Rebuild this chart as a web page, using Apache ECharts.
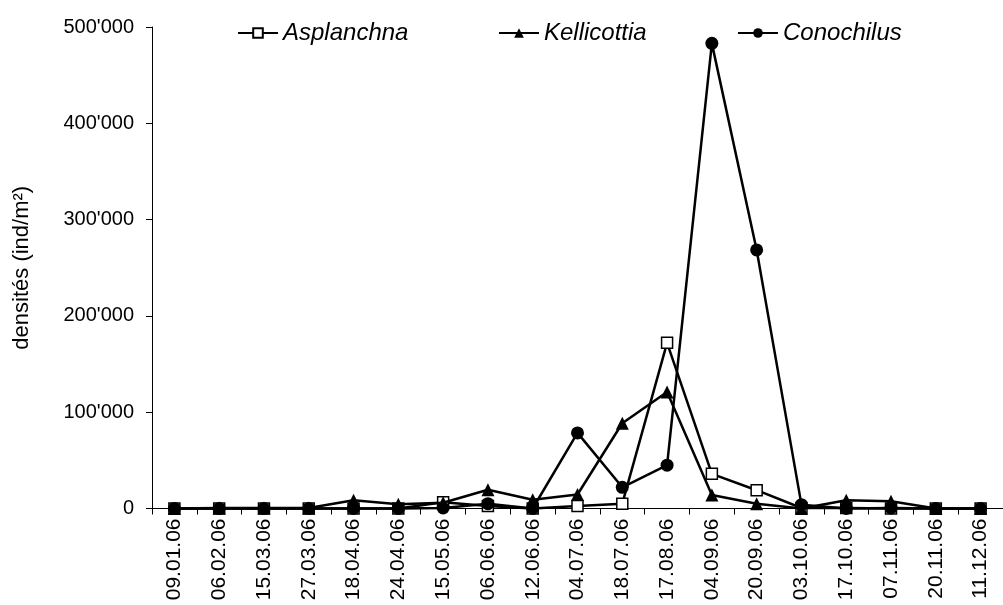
<!DOCTYPE html>
<html>
<head>
<meta charset="utf-8">
<script src="https://cdn.jsdelivr.net/npm/echarts@6/dist/echarts.min.js"></script>
<style>html,body{margin:0;padding:0;background:#fff;}#c{width:1003px;height:605px;}</style>
</head>
<body>
<div id="c"></div>
<script>
const categories = ['09.01.06','06.02.06','15.03.06','27.03.06','18.04.06','24.04.06','15.05.06','06.06.06','12.06.06','04.07.06','18.07.06','17.08.06','04.09.06','20.09.06','03.10.06','17.10.06','07.11.06','20.11.06','11.12.06'];
const asplanchna = [0,0,0,0,0,0,6500,2500,0,2500,5000,172000,36000,19000,500,500,0,0,0];
const kellicottia = [0,500,500,500,8500,4500,6000,19500,9000,14500,88500,121000,14000,5000,0,8500,7500,0,0];
const conochilus = [0,0,0,0,0,0,500,5000,0,78500,22000,45000,483000,268500,4000,0,500,0,0];
const yTicks = [0,100000,200000,300000,400000,500000];

const FONT = 'Liberation Sans, Arial, sans-serif';
function fmt(v){ if(v===0) return '0'; const s=String(v); return s.slice(0,s.length-3)+"'"+s.slice(-3); }

const chart = echarts.init(document.getElementById('c'), null, {renderer:'canvas'});
const legendText = {fontStyle:'italic', fontSize:24, color:'#000', fontFamily:FONT};
const legendBase = {top:21, padding:0, itemWidth:40, itemHeight:12, textStyle:legendText, selectedMode:false};
chart.setOption({
  animation:false,
  backgroundColor:'#fff',
  legend:[
    Object.assign({data:['Asplanchna'], left:237}, legendBase),
    Object.assign({data:['Kellicottia'], left:498}, legendBase),
    Object.assign({data:['Conochilus'], left:737}, legendBase)
  ],
  grid:{left:152, right:-10, top:27, bottom:96.5, containLabel:false},
  xAxis:{
    type:'category', data:categories, boundaryGap:true,
    axisLine:{lineStyle:{color:'#000', width:1}},
    axisTick:{show:true, length:6, alignWithLabel:false, lineStyle:{color:'#000'}},
    axisLabel:{rotate:90, margin:10, fontSize:21, color:'#000', fontFamily:FONT, interval:0},
    splitLine:{show:false}
  },
  yAxis:{
    type:'value', min:0, max:500000, interval:100000,
    name:'densités (ind/m²)', nameLocation:'middle', nameGap:119, nameRotate:90,
    nameTextStyle:{fontSize:22, color:'#000', fontFamily:FONT},
    axisLine:{show:true, lineStyle:{color:'#000', width:1}},
    axisTick:{show:true, length:6, lineStyle:{color:'#000'}},
    axisLabel:{margin:18, fontSize:20, color:'#000', fontFamily:FONT, formatter:(v)=>fmt(v)},
    splitLine:{show:false}
  },
  series:[
    {name:'Asplanchna', type:'line', data:asplanchna, clip:false, z:2,
     symbol:'rect', symbolSize:11, showAllSymbol:true,
     lineStyle:{color:'#000', width:2.5},
     itemStyle:{color:'#fff', borderColor:'#000', borderWidth:1.5}},
    {name:'Kellicottia', type:'line', data:kellicottia, clip:false, z:3,
     symbol:'triangle', symbolSize:13, showAllSymbol:true,
     lineStyle:{color:'#000', width:2.5},
     itemStyle:{color:'#000', borderColor:'#000', borderWidth:0}},
    {name:'Conochilus', type:'line', data:conochilus, clip:false, z:4,
     symbol:'circle', symbolSize:13, showAllSymbol:true,
     lineStyle:{color:'#000', width:2.5},
     itemStyle:{color:'#000', borderColor:'#000', borderWidth:0}}
  ]
});
</script>
</body>
</html>
